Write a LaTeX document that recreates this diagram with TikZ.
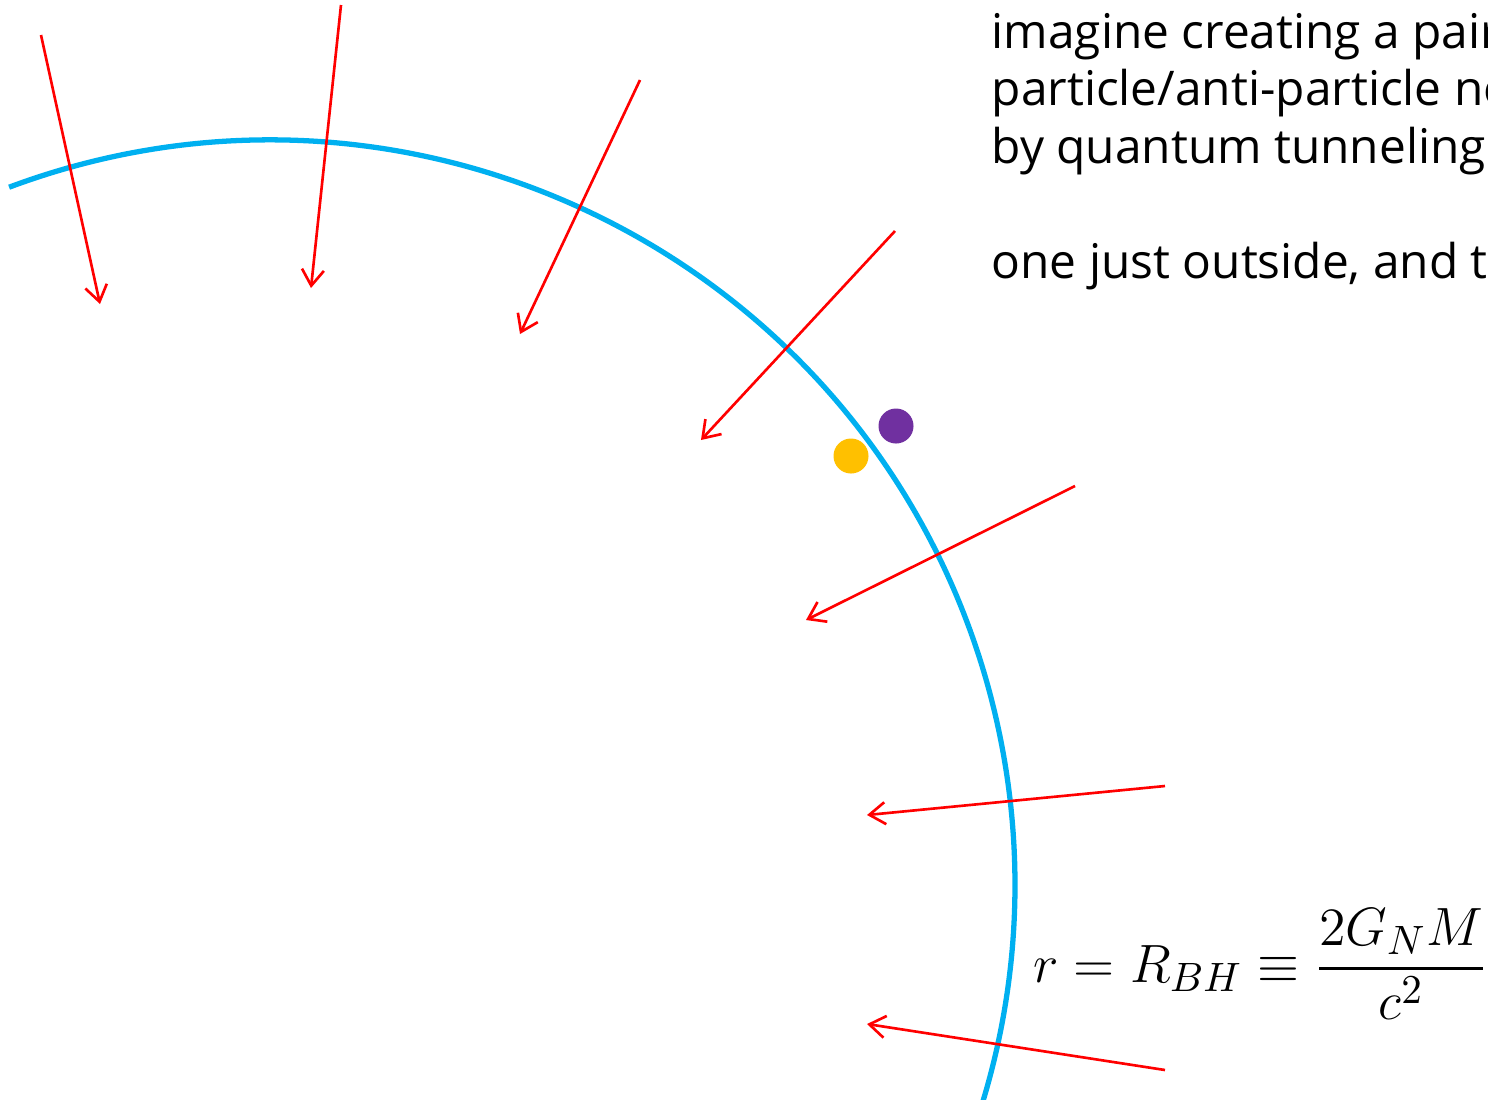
\documentclass[tikz,border=0pt]{standalone}
\usepackage{amsmath,amssymb}
\usepackage{graphicx}
\usepackage{fontspec}
\setmainfont{Open Sans}
\usetikzlibrary{arrows.meta}
\definecolor{horizon}{RGB}{0,176,240}
\definecolor{infall}{RGB}{255,0,0}
\definecolor{antipart}{RGB}{112,48,160}
\definecolor{part}{RGB}{255,192,0}

\begin{document}
\begin{tikzpicture}[x=0.01cm,y=-0.01cm,
        ray/.style={draw=infall, line width=0.75pt, -{Straight Barb[length=1.6mm,width=2.2mm]}},
        dot/.style={circle, inner sep=0pt, minimum size=0.35cm},
        textline/.style={anchor=base west, inner sep=0pt, font=\fontsize{13.6pt}{16pt}\selectfont}]
                    \useasboundingbox (0,0) rectangle (1488,1099);
                    \clip (0,0) rectangle (1488,1099);
                    % horizon
                    \draw[horizon, line width=1.5pt] (270,885) ++(-110.5:745) arc[start angle=-110.5, end angle=20, radius=745];
                    % infalling rays
                    \foreach \i/\sx/\sy/\ex/\ey in {1/41/35/100/304, 2/341/5/311/288, 3/640/80/520/334,
                        4/895/231/701/440, 5/1075/486/806/620, 6/1165/786/867/815, 7/1165/1070/867/1024} {
                        \coordinate (s\i) at (\sx,\sy);
                        \coordinate (e\i) at (\ex,\ey);
                        \draw[ray] (s\i) -- (e\i);
                    }
                    % the pair
                    \node[dot, fill=antipart] (anti) at (896,426) {};
                    \node[dot, fill=part] (pair) at (851,456) {};
                    \node[textline] (l1) at (991,48) {imagine creating a pair};
                    \node[textline] (l2) at (991,105) {particle/anti-particle ne};
                    \node[textline] (l3) at (991,163) {by quantum tunneling};
                    \node[textline] (l4) at (991,278) {one just outside, and t};
                    \node[anchor=base west, inner sep=0pt, font=\fontsize{15.5pt}{18pt}\selectfont] (rbh) at (1033,982)
                        {\scalebox{1.065}{$\displaystyle r = R_{BH} \equiv \frac{2G_NM}{c^2}$}};
                \end{tikzpicture}
\end{document}
